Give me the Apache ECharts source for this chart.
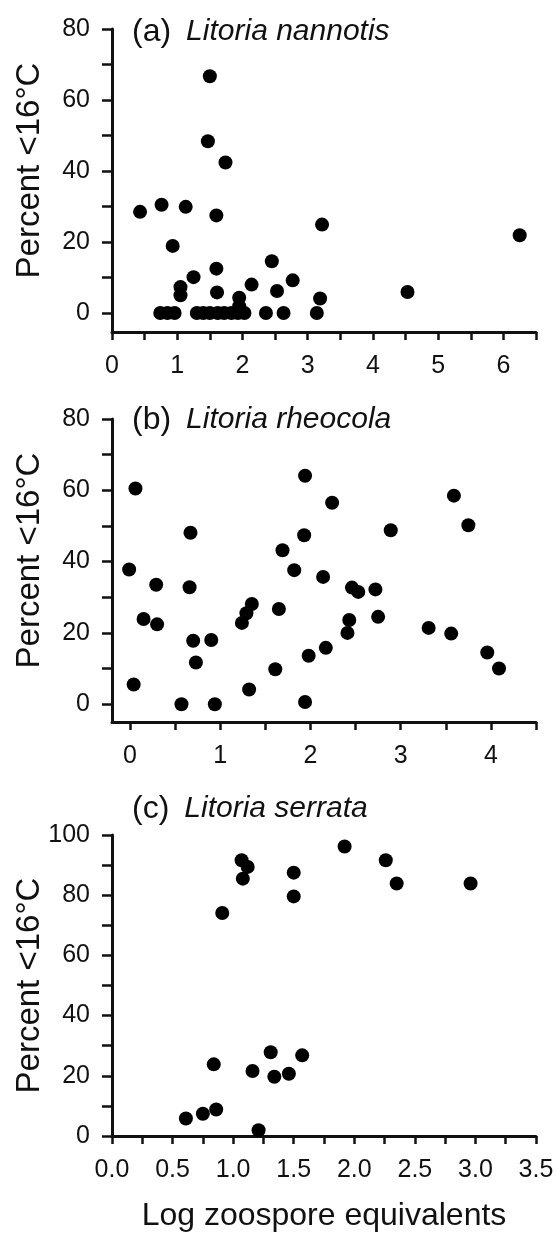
<!DOCTYPE html>
<html>
<head>
<meta charset="utf-8">
<script src="https://cdn.jsdelivr.net/npm/echarts@6/dist/echarts.min.js"></script>
<style>
  html, body { margin: 0; padding: 0; background: #fff; }
  #chart { width: 557px; height: 1234px; }
</style>
</head>
<body>
<div id="chart"></div>
<script>
// Panel (a) Litoria nannotis: log zoospore equivalents vs percent of time below 16 °C
const nannotisX = [0.74, 0.85, 0.96, 1.30, 1.40, 1.50, 1.62, 1.72, 1.83, 1.93, 2.03, 2.36, 2.63, 3.14,
  1.50, 1.47, 1.74, 0.43, 0.76, 1.13, 1.60, 0.93, 1.25, 1.05, 1.05, 1.60, 1.61, 2.14, 1.95, 1.95,
  2.45, 2.53, 2.77, 3.19, 3.22, 4.53, 6.25];
const nannotisY = [0, 0, 0, 0, 0, 0, 0, 0, 0, 0, 0, 0, 0, 0,
  66.7, 48.4, 42.4, 28.5, 30.5, 29.9, 27.5, 18.9, 10.1, 7.3, 5.0, 12.5, 5.8, 8.0, 4.3, 1.9,
  14.6, 6.2, 9.2, 4.1, 24.9, 5.9, 21.9];

// Panel (b) Litoria rheocola
const rheocolaX = [0.06, 0.67, -0.01, 0.29, 0.66, 0.15, 0.30, 0.70, 0.90, 0.73, 0.04, 0.57, 0.94,
  1.32, 1.24, 1.29, 1.35, 1.61, 1.65, 1.69, 1.82, 1.93, 1.94, 2.24, 2.14, 2.89, 3.59, 3.75,
  2.46, 2.53, 2.72, 2.43, 2.41, 2.75, 2.17, 1.98, 3.31, 3.56, 3.96, 4.09, 1.94];
const rheocolaY = [60.5, 48.1, 37.8, 33.5, 32.8, 23.9, 22.4, 17.8, 18.0, 11.7, 5.5, 0, 0,
  4.1, 22.8, 25.5, 28.1, 9.8, 26.7, 43.2, 37.6, 47.4, 64.1, 56.5, 35.7, 48.8, 58.5, 50.2,
  32.7, 31.5, 32.2, 23.6, 20.0, 24.5, 15.8, 13.6, 21.4, 19.8, 14.5, 10.0, 0.6];

// Panel (c) Litoria serrata
const serrataX = [0.91, 1.07, 1.12, 1.08, 1.92, 2.26, 2.35, 2.96, 1.50, 1.50,
  1.57, 1.46, 1.34, 1.31, 0.61, 0.75, 0.86, 0.84, 1.16, 1.21];
const serrataY = [74.1, 91.6, 89.4, 85.5, 96.2, 91.6, 83.9, 83.9, 87.5, 79.6,
  26.8, 20.7, 19.7, 27.8, 5.8, 7.4, 8.8, 23.8, 21.6, 1.9];

// Tick positions and labels
const xTicksA = [0, 0.5, 1, 1.5, 2, 2.5, 3, 3.5, 4, 4.5, 5, 5.5, 6, 6.5];
const xLabelsA = [0, 1, 2, 3, 4, 5, 6];
const xTicksB = [0, 0.5, 1, 1.5, 2, 2.5, 3, 3.5, 4, 4.5];
const xLabelsB = [0, 1, 2, 3, 4];
const xTicksC = [0, 0.25, 0.5, 0.75, 1, 1.25, 1.5, 1.75, 2, 2.25, 2.5, 2.75, 3, 3.25, 3.5];
const xLabelsC = [0, 0.5, 1, 1.5, 2, 2.5, 3, 3.5];
const yTicksAB = [0, 10, 20, 30, 40, 50, 60, 70, 80];
const yLabelsAB = [0, 20, 40, 60, 80];
const yTicksC = [0, 10, 20, 30, 40, 50, 60, 70, 80, 90, 100];
const yLabelsC = [0, 20, 40, 60, 80, 100];

const titles = [
  { tag: '(a)', species: 'Litoria nannotis' },
  { tag: '(b)', species: 'Litoria rheocola' },
  { tag: '(c)', species: 'Litoria serrata' }
];
const yName = 'Percent <16°C';
const xName = 'Log zoospore equivalents';

const FONT = '"Liberation Sans", Arial, sans-serif';
const INK = '#111';

function pairs(xs, ys) { return xs.map((x, i) => [x, ys[i]]); }

const grids = [
  { left: 112, top: 29, width: 424, height: 303, outerBoundsMode: 'none', containLabel: false },
  { left: 112, top: 419, width: 424, height: 303, outerBoundsMode: 'none', containLabel: false },
  { left: 112, top: 835, width: 424, height: 301, outerBoundsMode: 'none', containLabel: false }
];

function xAxisDef(gridIndex, min, max, ticks, labels, fmt, withName) {
  return {
    type: 'value', gridIndex, min, max,
    position: 'bottom',
    splitLine: { show: false },
    axisLine: { onZero: false, lineStyle: { color: INK, width: 3 } },
    axisTick: { show: true, customValues: ticks, length: 8, lineStyle: { color: INK, width: 2.5 } },
    axisLabel: { customValues: labels, formatter: fmt, margin: 22, fontSize: 25, color: INK, fontFamily: FONT },
    name: withName ? xName : '',
    nameLocation: 'middle', nameGap: 64, nameMoveOverlap: false,
    nameTextStyle: { fontSize: 32, color: INK, fontFamily: FONT }
  };
}

// The name is rotated, so a leading spacer token lifts the visible text up the axis
function yAxisDef(gridIndex, min, max, ticks, labels, lift) {
  return {
    type: 'value', gridIndex, min, max,
    splitLine: { show: false },
    axisLine: { onZero: false, lineStyle: { color: INK, width: 3 } },
    axisTick: { show: true, customValues: ticks, length: 10, lineStyle: { color: INK, width: 2.5 } },
    axisLabel: { customValues: labels, margin: 22, fontSize: 25, color: INK, fontFamily: FONT },
    name: (lift ? '{p| }' : '') + '{t|' + yName + '}',
    nameLocation: 'middle', nameGap: 66, nameRotate: 90, nameMoveOverlap: false,
    nameTextStyle: {
      fontSize: 33, color: INK, fontFamily: FONT,
      rich: {
        p: { width: lift, fontSize: 33 },
        t: { fontSize: 33, color: INK, fontFamily: FONT }
      }
    }
  };
}

const titleTops = [11, 399, 788];

const option = {
  backgroundColor: '#fff',
  animation: false,
  title: titles.map((t, i) => ({
    left: 127, top: titleTops[i],
    text: '{n|' + t.tag + '}{s|' + t.species + '}',
    textStyle: {
      fontWeight: 'normal',
      rich: {
        n: { fontSize: 32, color: INK, fontFamily: FONT, fontWeight: 'normal', padding: [0, 15, 0, 0] },
        s: { fontSize: 30, color: INK, fontFamily: FONT, fontWeight: 'normal', fontStyle: 'italic' }
      }
    }
  })),
  grid: grids,
  xAxis: [
    xAxisDef(0, 0, 6.5, xTicksA, xLabelsA, v => String(v), false),
    xAxisDef(1, -0.2, 4.5, xTicksB, xLabelsB, v => String(v), false),
    xAxisDef(2, 0, 3.5, xTicksC, xLabelsC, v => v.toFixed(1), true)
  ],
  yAxis: [
    yAxisDef(0, -5.35, 80, yTicksAB, yLabelsAB, 20),
    yAxisDef(1, -5, 80, yTicksAB, yLabelsAB, 20),
    yAxisDef(2, 0, 100, yTicksC, yLabelsC, 0)
  ],
  series: [
    pairs(nannotisX, nannotisY),
    pairs(rheocolaX, rheocolaY),
    pairs(serrataX, serrataY)
  ].map((data, i) => ({
    type: 'scatter', xAxisIndex: i, yAxisIndex: i,
    data, symbol: 'circle', symbolSize: 14,
    itemStyle: { color: '#000', opacity: 1 },
    clip: false
  }))
};

const chart = echarts.init(document.getElementById('chart'), null, { renderer: 'canvas' });
chart.setOption(option);
</script>
</body>
</html>
